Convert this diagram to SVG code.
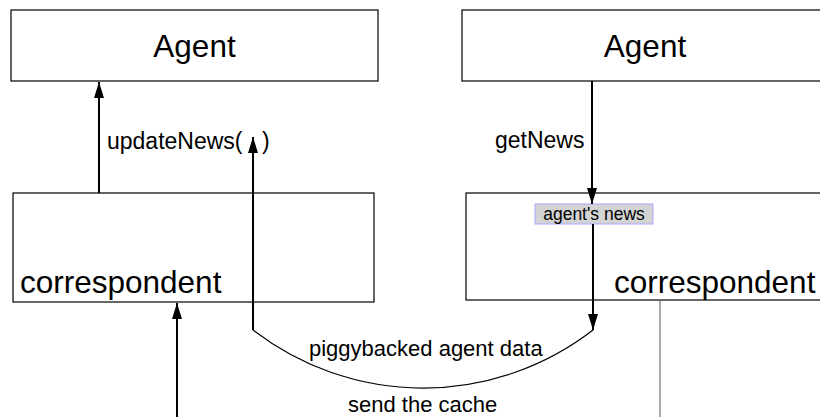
<svg xmlns="http://www.w3.org/2000/svg" width="820" height="417" viewBox="0 0 820 417">
<style>
  text { font-family: "Liberation Sans", Arial, sans-serif; fill: #000; }
  .box { fill: #fff; stroke: #000; stroke-width: 1.2; }
  .big { font-size: 31.5px; }
  .lbl { font-size: 22px; }
  .lbl2 { font-size: 23px; }
  .conn { fill: none; stroke: #000; stroke-width: 2; }
  .thin { fill: none; stroke: #000; stroke-width: 1.2; }
</style>
<defs>
  <marker id="ah" viewBox="0 0 16 10" refX="16" refY="5" markerWidth="16" markerHeight="10" markerUnits="userSpaceOnUse" orient="auto">
    <path d="M0,0 L16,5 L0,10 Z" fill="#000"/>
  </marker>
</defs>
<rect width="820" height="417" fill="#fff"/>
<g id="agent-left">
  <rect class="box" x="11" y="10" width="367" height="71"/>
  <text class="big" x="194.5" y="57" text-anchor="middle">Agent</text>
</g>
<g id="agent-right">
  <rect class="box" x="462" y="10" width="370" height="71"/>
  <text class="big" x="645" y="57" text-anchor="middle">Agent</text>
</g>
<g id="correspondent-left">
  <rect class="box" x="13" y="193" width="361" height="109"/>
  <text class="big" x="20" y="293">correspondent</text>
</g>
<g id="correspondent-right">
  <rect class="box" x="466" y="193" width="370" height="107"/>
  <text class="big" x="614" y="293">correspondent</text>
</g>
<g id="agents-news">
  <rect x="535" y="204" width="118" height="20" fill="#d3d3d3" stroke="#a8a8ff" stroke-width="1"/>
  <text x="594" y="220" font-size="17.5px" text-anchor="middle">agent's news</text>
</g>
<g id="connectors">
  <line class="conn" x1="99" y1="193" x2="99" y2="82" marker-end="url(#ah)"/>
  <line class="conn" x1="592" y1="81" x2="592" y2="204" marker-end="url(#ah)"/>
  <line class="conn" x1="593" y1="224" x2="593" y2="330" marker-end="url(#ah)"/>
  <path class="thin" d="M593,330 A278,278 0 0 1 253,330"/>
  <line class="conn" x1="253" y1="330" x2="253" y2="137" marker-end="url(#ah)"/>
  <line class="conn" x1="177" y1="417" x2="177" y2="303" marker-end="url(#ah)"/>
  <line x1="660" y1="300" x2="660" y2="417" stroke="#555" stroke-width="1"/>
  <text class="lbl2" x="107" y="149">updateNews(</text>
  <text class="lbl2" x="262" y="149">)</text>
  <text class="lbl2" x="495" y="148">getNews</text>
  <text class="lbl" x="309" y="356">piggybacked agent data</text>
  <text class="lbl" x="348" y="412">send the cache</text>
</g>
</svg>
